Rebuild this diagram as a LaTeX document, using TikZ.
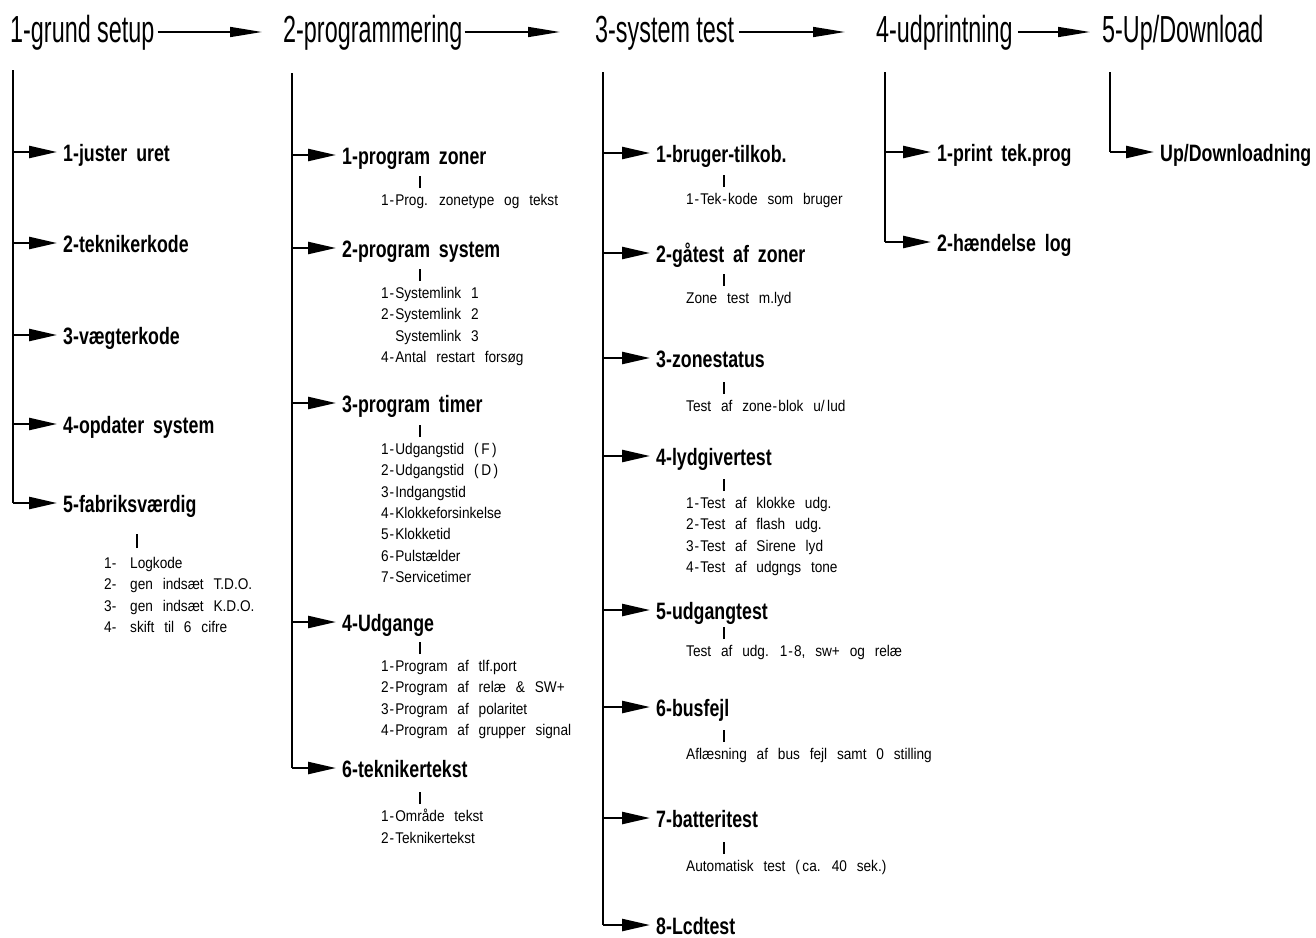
\documentclass[tikz,border=0pt]{standalone}
\usepackage{fontspec}
\usetikzlibrary{arrows.meta}
\newfontfamily\hdrfont[FakeStretch=0.62]{Liberation Sans}
\newfontfamily\itmfont[FakeStretch=0.75,WordSpace=1.8]{Liberation Sans}
\newfontfamily\subfont[FakeStretch=0.88,WordSpace=2.6]{Liberation Sans}
\newcommand{\hy}{\kern0.8pt-\kern1.2pt}
\newcommand{\nr}[1]{\makebox[26pt][l]{#1}}
\tikzset{
  hdr/.style={font=\hdrfont\fontsize{37.7}{40}\selectfont, inner sep=0pt, anchor=base west, text height=20pt, text depth=0pt},
  itm/.style={font=\itmfont\bfseries\fontsize{23.7}{26}\selectfont, inner sep=0pt, anchor=base west, text height=18pt, text depth=0pt},
  sub/.style={font=\subfont\fontsize{15.5}{21.4}\selectfont, align=left, inner sep=0pt, anchor=north west},
  harrow/.style={line width=1.6pt, -{Triangle[length=32pt,width=10pt]}},
  iarrow/.style={line width=2.4pt, -{Triangle[length=28pt,width=12pt]}},
  vline/.style={line width=1.6pt},
  tickline/.style={line width=1.5pt},
}
\newcommand{\st}{\rule{0pt}{12pt}}
\begin{document}
\begin{tikzpicture}[x=1pt,y=1pt]
\path[use as bounding box] (0,0) rectangle (1316,-937);

% headers
\node[hdr] (h1) at (10,-42) {1-grund setup};
\node[hdr] (h2) at (283,-42) {2-programmering};
\node[hdr] (h3) at (595,-42) {3-system test};
\node[hdr] (h4) at (876,-42) {4-udprintning};
\node[hdr] (h5) at (1102,-42) {5-Up/Download};
\draw[harrow] ([xshift=3pt]h1.east) -- ([xshift=-21pt]h2.west);
\draw[harrow] ([xshift=2pt]h2.east) -- ([xshift=-35pt]h3.west);
\draw[harrow] ([xshift=5pt]h3.east) -- ([xshift=-31pt]h4.west);
\draw[harrow] ([xshift=5pt]h4.east) -- ([xshift=-12pt]h5.west);

% vertical line tops
\coordinate (v1) at (13,-70);
\coordinate (v2) at (292,-73);
\coordinate (v3) at (603,-72);
\coordinate (v4) at (885,-72);
\coordinate (v5) at (1110,-72);

% column 1
\node[itm] (i11) at (63,-161) {1-juster uret};
\node[itm] (i12) at (63,-252) {2-teknikerkode};
\node[itm] (i13) at (63,-344) {3-vægterkode};
\node[itm] (i14) at (63,-433) {4-opdater system};
\node[itm] (i15) at (63,-512) {5-fabriksværdig};
\draw[vline] (v1) -- (v1 |- i15.west);
\foreach \n in {i11,i12,i13,i14,i15}
  \draw[iarrow] (v1 |- \n.west) -- ([xshift=-6pt]\n.west);
\node[sub] (s15) at (104,-556) {\st\nr{1-}Logkode\\\nr{2-}gen indsæt T.D.O.\\\nr{3-}gen indsæt K.D.O.\\\nr{4-}skift til 6 cifre};
\draw[tickline] ([xshift=33pt,yshift=8pt]s15.north west) -- ([xshift=33pt,yshift=22pt]s15.north west);

% column 2
\node[itm] (i21) at (342,-164) {1-program zoner};
\node[itm] (i22) at (342,-257) {2-program system};
\node[itm] (i23) at (342,-412) {3-program timer};
\node[itm] (i24) at (342,-631) {4-Udgange};
\node[itm] (i26) at (342,-777) {6-teknikertekst};
\draw[vline] (v2) -- (v2 |- i26.west);
\foreach \n in {i21,i22,i23,i24,i26}
  \draw[iarrow] (v2 |- \n.west) -- ([xshift=-6pt]\n.west);
\node[sub] (s21) at (381,-193) {\st 1\hy Prog. zonetype og tekst};
\node[sub] (s22) at (381,-286) {\st 1\hy Systemlink 1\\2\hy Systemlink 2\\\phantom{2\hy}Systemlink 3\\4\hy Antal restart forsøg};
\node[sub] (s23) at (381,-442) {\st 1\hy Udgangstid (\,F\,)\\2\hy Udgangstid (\,D\,)\\3\hy Indgangstid\\4\hy Klokkeforsinkelse\\5\hy Klokketid\\6\hy Pulstælder\\7\hy Servicetimer};
\node[sub] (s24) at (381,-659) {\st 1\hy Program af tlf.port\\2\hy Program af relæ \& SW+\\3\hy Program af polaritet\\4\hy Program af grupper signal};
\node[sub] (s26) at (381,-809) {\st 1\hy Område tekst\\2\hy Teknikertekst};
\foreach \s in {s21,s22,s23,s24,s26}
  \draw[tickline] ([xshift=39pt,yshift=5pt]\s.north west) -- ([xshift=39pt,yshift=17pt]\s.north west);

% column 3
\node[itm] (i31) at (656,-162) {1-bruger-tilkob.};
\node[itm] (i32) at (656,-262) {2-gåtest af zoner};
\node[itm] (i33) at (656,-367) {3-zonestatus};
\node[itm] (i34) at (656,-465) {4-lydgivertest};
\node[itm] (i35) at (656,-619) {5-udgangtest};
\node[itm] (i36) at (656,-716) {6-busfejl};
\node[itm] (i37) at (656,-827) {7-batteritest};
\node[itm] (i38) at (656,-934) {8-Lcdtest};
\draw[vline] (v3) -- (v3 |- i38.west);
\foreach \n in {i31,i32,i33,i34,i35,i36,i37,i38}
  \draw[iarrow] (v3 |- \n.west) -- ([xshift=-6pt]\n.west);
\node[sub] (s31) at (686,-192) {\st 1\hy Tek\hy kode som bruger};
\node[sub] (s32) at (686,-291) {\st Zone test m.lyd};
\node[sub] (s33) at (686,-399) {\st Test af zone\hy blok u/\,lud};
\node[sub] (s34) at (686,-496) {\st 1\hy Test af klokke udg.\\2\hy Test af flash udg.\\3\hy Test af Sirene lyd\\4\hy Test af udgngs tone};
\node[sub] (s35) at (686,-644) {\st Test af udg. 1\hy 8, sw+ og relæ};
\node[sub] (s36) at (686,-747) {\st Aflæsning af bus fejl samt 0 stilling};
\node[sub] (s37) at (686,-859) {\st Automatisk test (\,ca. 40 sek.)};
\foreach \s in {s31,s32,s33,s34,s35,s36,s37}
  \draw[tickline] ([xshift=38pt,yshift=5pt]\s.north west) -- ([xshift=38pt,yshift=17pt]\s.north west);

% column 4
\node[itm] (i41) at (937,-161) {1-print tek.prog};
\node[itm] (i42) at (937,-251) {2-hændelse log};
\draw[vline] (v4) -- (v4 |- i42.west);
\foreach \n in {i41,i42}
  \draw[iarrow] (v4 |- \n.west) -- ([xshift=-6pt]\n.west);

% column 5
\node[itm] (i51) at (1160,-161) {Up/Downloadning};
\draw[vline] (v5) -- (v5 |- i51.west);
\draw[iarrow] (v5 |- i51.west) -- ([xshift=-6pt]i51.west);
\end{tikzpicture}
\end{document}
